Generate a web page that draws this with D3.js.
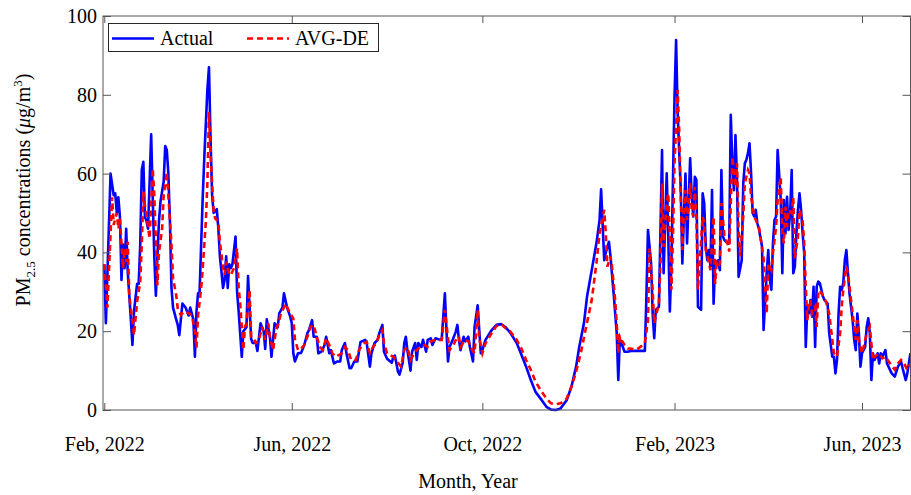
<!DOCTYPE html>
<html>
<head>
<meta charset="utf-8">
<script src="https://cdn.jsdelivr.net/npm/d3@7"></script>
<style>
body { margin: 0; background: #fff; }
text { font-family: "Liberation Serif", "Times New Roman", serif; fill: #000; }
</style>
</head>
<body>
<div id="chart"></div>
<script>

// days counted from 1 Feb 2022, values in ug/m3
var actualDay = [0,1,4,6,7,8,9,10,11,12,13,14,15,17,18,19,21,22,23,24,25,26,27,28,30,31,32,33,34,35,36,38,39,40,41,42,43,44,46,47,48,49,50,52,54,55,57,58,59,60,61,63,64,66,67,68,69,70,72,73,74,76,77,78,79,80,81,82,84,85,86,88,89,91,92,94,95,97,98,100,102,103,104,106,107,109,111,112,114,115,117,119,120,121,122,124,126,128,130,131,133,134,136,137,139,141,142,144,145,147,149,151,152,154,155,157,158,160,162,164,167,168,170,171,173,175,176,178,179,181,184,185,186,188,189,191,192,193,194,196,197,199,200,201,203,204,206,207,209,210,212,215,216,218,219,220,221,223,225,226,227,228,230,231,233,234,236,237,239,240,241,242,244,248,251,254,257,260,264,267,270,273,276,280,283,286,289,292,296,299,302,304,307,309,312,315,317,318,320,321,323,324,326,328,329,330,331,333,335,337,341,346,347,348,350,351,352,353,355,356,357,358,359,360,361,362,363,364,365,366,367,369,370,371,372,373,374,375,376,377,378,379,380,382,383,384,385,386,387,388,389,390,391,393,394,395,396,397,399,400,401,402,403,404,405,406,408,409,410,411,412,413,414,415,416,417,418,419,421,422,424,425,426,427,428,429,430,431,433,434,435,436,437,438,439,440,441,442,443,444,445,446,447,448,449,450,451,452,453,454,455,456,457,458,460,461,463,464,466,467,468,469,470,471,472,473,474,475,476,477,479,480,481,482,483,484,485,487,488,489,490,491,492,493,495,496,497,498,500,501,504,506,508,510,511,513,514,516];
var actualPM = [37,22,60,54.5,55,50,54,49,33,42,36,46,35,23,16.5,25,32,32,42,61,63,49,48,46,70,54,39,29,39,48,53,58,67,66,60,48,31,26,23,21.6,19,23,27,26,24,26,23,13.5,25,29.6,30,54,64,81.5,87,69,54.5,50,51,46,39,31,33,39,31,37,36,37,44,30,25,13.5,20,21,34,18,17,17,15,22,20,15.5,23,18.6,13.5,22,21,24.5,26,29.6,26,23.7,22,14.4,12.3,14.4,14.5,16.5,19.5,20.3,22.8,18.6,18.6,14.4,14.8,16.5,18.6,14.4,15.2,11.8,12.3,12.3,15.2,17,14.4,10.6,10.6,12.3,12.3,17.3,17.8,16.9,11,14.4,17,17.8,19.5,21.6,14.8,13,12,13.5,13.8,9.7,9,12,17,18.6,15.2,10,14.8,17,12.7,17,16,17.8,14.8,17.8,18.2,16.5,18.2,17.8,18.2,29.6,20.3,12.3,16,17.8,19.9,21.6,17.8,15.2,18.6,17.4,18.6,16,12.3,21,26.6,20.3,14.4,15.2,17.8,20.3,21.6,21.8,21,19.5,17,14,11,7.6,4.6,2.5,0.8,0.1,0,0.4,2.5,5.9,11,16,22,28.8,35.5,42.3,48.2,56,38,40,42.7,39,29.7,19.5,7.6,18,17,14.8,14.8,15,15,15,28.8,45.7,37.2,24.5,18.2,25.4,26.2,45.7,66,34.7,47.4,60.1,44,25,37.2,58.4,79.5,93.9,75.3,55.8,37.2,49.1,60,42.3,52.5,63.9,54.1,49.1,59.2,58.4,26.2,25.4,55,52.5,41.4,38,40.6,36.4,55.8,27,37.2,38,35.5,60.9,44,43.1,42.3,42.3,74.9,62.6,55.8,69.8,58.4,33.8,38,57.5,62.6,63.5,65.2,67.7,60.1,50,49.1,50.8,47.4,46,41.5,20.3,34.7,40.6,33,30.5,42.3,48.2,49.1,66,53.3,34.7,53.3,44.8,54.1,45.7,49.9,60.9,34.7,36.4,44.8,50.8,55,50.8,44.8,39.8,16,26.2,24.5,27.9,23.7,31.3,16,31.3,32.6,32.2,28.8,27.9,27,19.5,13.5,13.5,9.3,12.7,24.5,31.3,30.5,32.2,38,40.6,34.7,29.6,22.8,17.8,15.2,24.5,19.5,11,14.4,16,21.1,23.3,19.5,7.6,14.4,12.7,14.4,11.8,14.4,13.5,15.2,11.8,9.3,8.5,11,12.3,10.6,7.6,9.3,14.4];

var avgdeDay = [0,2,5,6,8,9,10,12,13,14,15,16,18,19,21,23,24,25,26,27,29,31,32,33,34,35,37,38,40,41,43,44,46,47,49,51,54,56,58,59,60,62,63,65,66,67,68,70,71,73,74,76,77,78,80,81,83,85,86,87,89,90,91,93,94,96,97,99,101,102,103,105,106,108,110,112,113,115,116,119,121,122,124,126,128,130,132,134,136,138,140,142,144,146,148,152,154,156,158,161,163,166,168,170,172,174,176,178,179,181,185,188,190,192,194,196,199,201,203,205,207,209,212,216,218,220,221,224,226,227,228,231,233,235,237,239,240,242,244,248,251,254,257,260,264,267,270,273,276,280,283,286,289,292,296,299,302,305,308,312,315,317,320,321,322,324,325,327,328,329,330,331,333,335,336,341,346,348,349,351,352,353,355,356,357,358,360,361,362,363,364,365,367,368,369,370,371,372,373,374,375,376,377,378,379,380,381,383,384,385,386,387,388,390,391,392,393,394,395,397,399,400,402,403,404,405,406,407,409,410,412,413,414,416,417,419,420,422,424,425,427,428,430,431,433,434,435,436,437,438,440,441,442,444,445,447,448,449,450,451,452,453,455,456,457,458,460,462,464,466,467,469,471,472,473,475,476,478,480,481,482,483,485,486,488,490,492,493,496,498,500,503,506,508,510,512,514,516];
var avgdePM = [37,26,54,47,50,46,48.6,36,41,37.6,42.7,29,22.4,19,27.5,32.6,42,55.4,52,49.5,43.5,61.3,54.5,42.7,31.7,40,46,54.5,60.4,54.5,41.9,33.4,29.2,25.8,24.1,25,24.6,24.1,19.9,15.7,24,30.9,36,47.8,57.9,75.6,65,50.3,48.6,47.8,42.7,36,34.3,37.6,34.3,34.3,36,41,31,27,15.2,21.1,22,30.5,18.6,17.8,17,17.8,21.1,19.5,17.8,22,18.6,15.2,20.3,22.8,24.5,26,27,24.5,23.2,18,15.2,15.6,16.5,18.6,21.1,21.6,18.6,16,15.2,18.2,16.5,14.4,13.5,14.4,16,15.2,12.7,12.7,15.2,16.9,17.3,14.4,16,16.9,19,20.3,17,14.4,13.5,12,11,15.2,16,12.7,14.8,15.6,16,16.5,16,17.4,17.8,17.8,25.4,18.2,15.2,16.9,18.6,18.6,16,17.8,17.4,15.6,14.4,25.4,18.2,14.4,16.9,19.5,21.3,21.8,20.7,19.9,17.8,15.6,12.7,10.2,7.2,4.6,2.9,1.7,1.5,1.7,2.9,5.9,9.7,14.4,20.3,27.9,37.2,44.8,50.8,44.8,36.4,39,36.4,27.9,22,14.4,18.6,17.8,16.5,15.6,15.6,15.4,16.9,22.8,41,30.5,22,23.7,27,37.2,57.5,41.4,52.5,55,44,30.5,44,62.6,81.2,71,54.1,40.6,50.8,55.8,48.2,52.5,57.5,50.8,49.1,56.6,49.1,30.5,37.2,49.1,47.4,40.6,39,37.2,35.5,49.1,32,37.2,36.4,37.2,52.5,44,42.3,40.2,64.3,60,56.6,62.6,45.7,39,49.1,57.5,60.9,60,54.1,49.1,48.2,46.5,44,38.5,24.5,37.2,35.5,39.8,46.5,53.3,59.2,44.8,42.3,51.6,46.5,50.8,50,54,38.5,43.9,50.8,48.2,42.3,31.3,22.8,26.2,27.9,24.5,26.2,21.1,29.6,30.5,28.8,27.5,24.5,17.8,14.4,13.5,19.5,26.2,30.5,36.4,34.7,27.9,21.1,17.8,22.8,17.8,14.4,16,19.5,21.1,12.7,13.5,14.4,13.1,13.5,11.8,10.2,11.8,12.7,11.8,10.2,11.8];

var seriesNames = ["Actual", "AVG-DE"];
var xTickDates = ["2022-02-01", "2022-06-01", "2022-10-01", "2023-02-01", "2023-06-01"];
var yTicks = [0, 20, 40, 60, 80, 100];

var parseDate = d3.timeParse("%Y-%m-%d");
var startDate = parseDate("2022-02-01");

var margin = { top: 16, right: 0.5, bottom: 85, left: 103 };
var width = 911 - margin.left - margin.right,
    height = 495 - margin.top - margin.bottom;

var svg = d3.select("#chart").append("svg")
    .attr("width", 911)
    .attr("height", 495);

var g = svg.append("g")
    .attr("transform", "translate(" + margin.left + "," + margin.top + ")");

// tick for 1 Feb 2022 sits just right of the box edge
var x = d3.scaleTime()
    .domain([parseDate("2022-02-01"), parseDate("2023-06-01")])
    .range([1.3, 759]);

var y = d3.scaleLinear()
    .domain([0, 100])
    .range([height, 0]);

function toPoints(days, vals) {
    return days.map(function(d, i) {
        return { date: d3.timeDay.offset(startDate, d), value: vals[i] };
    });
}

var actual = toPoints(actualDay, actualPM);
var avgde = toPoints(avgdeDay, avgdePM);

g.append("clipPath")
    .attr("id", "plot-clip")
    .append("rect")
    .attr("x", 0)
    .attr("y", -2)
    .attr("width", width)
    .attr("height", height + 4);

var line = d3.line()
    .x(function(d) { return x(d.date); })
    .y(function(d) { return y(d.value); });

var lines = g.append("g").attr("clip-path", "url(#plot-clip)");

lines.append("path")
    .datum(actual)
    .attr("d", line)
    .attr("fill", "none")
    .attr("stroke", "#0000ff")
    .attr("stroke-width", 2.6)
    .attr("stroke-linejoin", "round");

lines.append("path")
    .datum(avgde)
    .attr("d", line)
    .attr("fill", "none")
    .attr("stroke", "#ff0000")
    .attr("stroke-width", 2.6)
    .attr("stroke-dasharray", "6,4");

// axes, ticks pointing inward on all four sides
var tickDates = xTickDates.map(parseDate);
var axisColor = "#555";

var xAxis = g.append("g")
    .attr("transform", "translate(0," + height + ")")
    .call(d3.axisBottom(x).tickValues(tickDates)
        .tickFormat(d3.timeFormat("%b, %Y"))
        .tickSizeInner(-7).tickSizeOuter(0).tickPadding(27));

var xTop = g.append("g")
    .call(d3.axisTop(x).tickValues(tickDates).tickFormat("")
        .tickSizeInner(-7).tickSizeOuter(0));

var yAxis = g.append("g")
    .call(d3.axisLeft(y).tickValues(yTicks)
        .tickSizeInner(-8).tickSizeOuter(0).tickPadding(6));

var yRight = g.append("g")
    .attr("transform", "translate(" + width + ",0)")
    .call(d3.axisRight(y).tickValues(yTicks).tickFormat("")
        .tickSizeInner(-8).tickSizeOuter(0));

[xAxis, xTop, yAxis, yRight].forEach(function(a) {
    a.select(".domain").remove();
    a.selectAll("line").attr("stroke", axisColor);
    a.selectAll("text")
        .attr("font-family", "Liberation Serif, Times New Roman, serif")
        .attr("font-size", 20)
        .attr("fill", "#000");
});

g.append("rect")
    .attr("x", 0)
    .attr("y", 0)
    .attr("width", width)
    .attr("height", height)
    .attr("fill", "none")
    .attr("stroke", axisColor)
    .attr("stroke-width", 1);

// axis titles
svg.append("text")
    .attr("x", 468)
    .attr("y", 488)
    .attr("text-anchor", "middle")
    .attr("font-size", 20)
    .text("Month, Year");

var yLabel = svg.append("text")
    .attr("transform", "translate(30,190) rotate(-90)")
    .attr("text-anchor", "middle")
    .attr("font-size", 20);
yLabel.append("tspan").text("PM");
yLabel.append("tspan").attr("font-size", 13).attr("dy", 5).text("2.5");
yLabel.append("tspan").attr("dy", -5).text(" concentrations (");
yLabel.append("tspan").attr("font-style", "italic").text("\u03bc");
yLabel.append("tspan").text("g/m");
yLabel.append("tspan").attr("font-size", 13).attr("dy", -8).text("3");
yLabel.append("tspan").attr("dy", 8).text(")");

// legend
var legend = svg.append("g").attr("class", "legend");

legend.append("rect")
    .attr("x", 108.5)
    .attr("y", 23.5)
    .attr("width", 270)
    .attr("height", 28)
    .attr("fill", "#fff")
    .attr("stroke", "#262626")
    .attr("stroke-width", 1);

var legendItems = [
    { name: seriesNames[0], color: "#0000ff", dash: null, x: 112 },
    { name: seriesNames[1], color: "#ff0000", dash: "6,4", x: 247 }
];

legendItems.forEach(function(item) {
    legend.append("line")
        .attr("x1", item.x)
        .attr("x2", item.x + 42)
        .attr("y1", 38.5)
        .attr("y2", 38.5)
        .attr("stroke", item.color)
        .attr("stroke-width", 2.6)
        .attr("stroke-dasharray", item.dash);
    legend.append("text")
        .attr("x", item.x + 48)
        .attr("y", 45)
        .attr("font-size", 20)
        .text(item.name);
});

</script>
</body>
</html>
